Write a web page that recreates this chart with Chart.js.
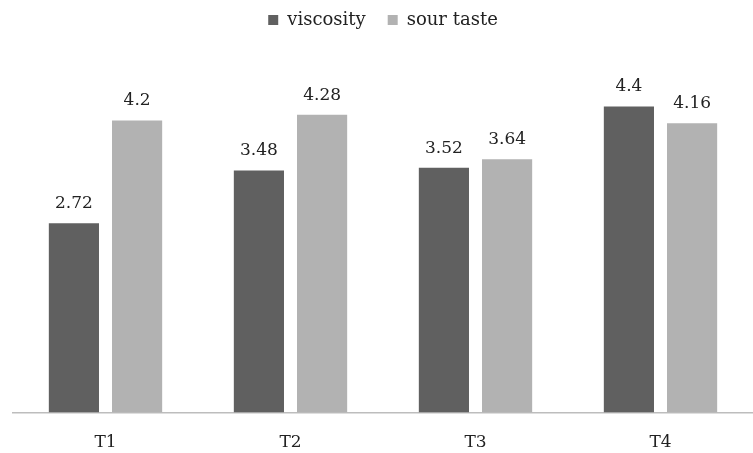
<!DOCTYPE html>
<html lang="en">
<head>
  <meta charset="UTF-8">
  <title>Viscosity and sour taste</title>
  <script src="https://cdn.jsdelivr.net/npm/chart.js"></script>
  <style>
    html, body {
      margin: 0;
      padding: 0;
      background: #fff;
      overflow: hidden;
    }
    #wrap {
      width: 100vw;
      height: 100vh;
    }
  </style>
</head>
<body>
  <div id="wrap"><canvas id="tasteChart"></canvas></div>

  <script>
    const categories = ['T1', 'T2', 'T3', 'T4'];
    const viscosity = [2.72, 3.48, 3.52, 4.4];
    const sourTaste = [4.2, 4.28, 3.64, 4.16];

    const fontFamily = "'DejaVu Serif', 'Liberation Serif', serif";

    // writes the value above each bar
    const valueLabels = {
      id: 'valueLabels',
      afterDatasetsDraw(chart) {
        const ctx = chart.ctx;
        ctx.save();
        ctx.font = '17px ' + fontFamily;
        ctx.fillStyle = '#222';
        ctx.textAlign = 'center';
        ctx.textBaseline = 'bottom';
        chart.data.datasets.forEach((ds, i) => {
          chart.getDatasetMeta(i).data.forEach((bar, j) => {
            ctx.fillText(String(ds.data[j]), bar.x, bar.y - 11);
          });
        });
        ctx.restore();
      }
    };

    const ctx = document.getElementById('tasteChart').getContext('2d');
    const chart = new Chart(ctx, {
      type: 'bar',
      data: {
        labels: categories,
        datasets: [
          {
            label: 'viscosity',
            data: viscosity,
            backgroundColor: '#606060'
          },
          {
            label: 'sour taste',
            data: sourTaste,
            backgroundColor: '#b2b2b2'
          }
        ]
      },
      options: {
        responsive: true,
        maintainAspectRatio: false,
        animation: false,
        categoryPercentage: 0.683,
        barPercentage: 0.794,
        layout: {
          padding: { left: 13, right: 0, top: -11, bottom: -12 }
        },
        plugins: {
          legend: {
            position: 'top',
            labels: {
              boxWidth: 10,
              boxHeight: 10,
              padding: 22,
              color: '#222',
              font: { family: fontFamily, size: 18 }
            }
          },
          tooltip: { enabled: false }
        },
        scales: {
          x: {
            grid: { display: false },
            border: { color: '#bdbdbd', width: 1.5 },
            ticks: {
              color: '#222',
              padding: 12,
              font: { family: fontFamily, size: 17 }
            }
          },
          y: {
            display: false,
            min: 0,
            max: 5.37
          }
        }
      },
      plugins: [valueLabels]
    });
  </script>
</body>
</html>
